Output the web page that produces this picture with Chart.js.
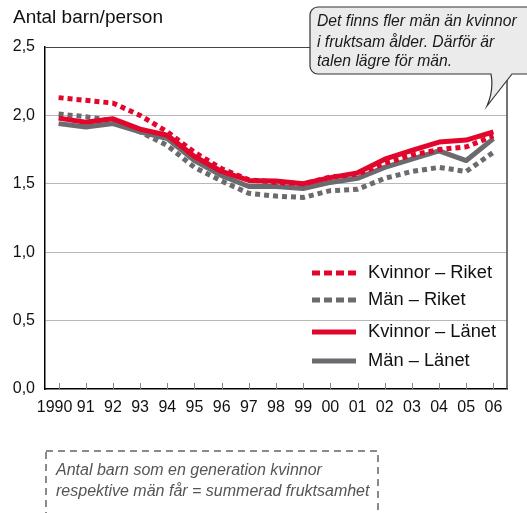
<!DOCTYPE html>
<html><head><meta charset="utf-8">
<script src="https://cdn.jsdelivr.net/npm/chart.js@4/dist/chart.umd.min.js"></script>
<style>html,body{margin:0;padding:0;background:#fff;}canvas{display:block;}</style>
</head><body>
<canvas id="c" width="527" height="513"></canvas>
<script>
const years = ['1990','91','92','93','94','95','96','97','98','99','00','01','02','03','04','05','06'];
const kvinnorRiket = [2.13,2.11,2.09,2.00,1.88,1.73,1.61,1.53,1.51,1.50,1.55,1.57,1.65,1.71,1.75,1.77,1.85];
const manRiket     = [2.01,1.99,1.96,1.88,1.78,1.62,1.52,1.43,1.41,1.40,1.45,1.46,1.54,1.59,1.62,1.59,1.73];
const kvinnorLanet = [1.98,1.95,1.975,1.90,1.855,1.70,1.59,1.525,1.52,1.50,1.545,1.58,1.68,1.745,1.805,1.82,1.88];
const manLanet     = [1.94,1.915,1.94,1.88,1.83,1.67,1.56,1.48,1.48,1.465,1.51,1.54,1.62,1.68,1.74,1.67,1.83];
const yTicks = [0,0.5,1.0,1.5,2.0,2.5];
const seriesNames = ['Kvinnor – Riket','Män – Riket','Kvinnor – Länet','Män – Länet'];
const titleText = 'Antal barn/person';
const calloutLines = ['Det finns fler män än kvinnor','i fruktsam ålder. Därför är','talen lägre för män.'];
const noteLines = ['Antal barn som en generation kvinnor','respektive män får = summerad fruktsamhet'];

const RED = '#e2062c', GRAY = '#6b6b6f';
const FONT = '"Liberation Sans", Arial, Helvetica, sans-serif';

const extras = {
  id: 'extras',
  afterDraw(chart) {
    const ctx = chart.ctx, a = chart.chartArea, xs = chart.scales.x;
    ctx.save();
    // right frame
    ctx.strokeStyle = '#444'; ctx.lineWidth = 1.5;
    ctx.beginPath(); ctx.moveTo(a.right, a.top); ctx.lineTo(a.right, a.bottom); ctx.stroke();
    // inner ticks
    ctx.strokeStyle = '#888'; ctx.lineWidth = 1;
    xs.ticks.forEach((t, i) => {
      const x = Math.round(xs.getPixelForTick(i)) + 0.5;
      ctx.beginPath(); ctx.moveTo(x, a.bottom - 6); ctx.lineTo(x, a.bottom); ctx.stroke();
    });
    // legend
    const rows = [273, 300, 332, 361];
    const sty = [
      {c: RED, dash: [8, 4]}, {c: GRAY, dash: [8, 4]}, {c: RED, dash: []}, {c: GRAY, dash: []}
    ];
    seriesNames.forEach((n, i) => {
      ctx.strokeStyle = sty[i].c; ctx.lineWidth = 5; ctx.lineCap = 'butt';
      ctx.setLineDash(sty[i].dash);
      ctx.beginPath(); ctx.moveTo(312, rows[i]); ctx.lineTo(356, rows[i]); ctx.stroke();
      ctx.setLineDash([]);
      ctx.fillStyle = '#111'; ctx.font = '18.3px ' + FONT; ctx.textBaseline = 'middle'; ctx.textAlign = 'left';
      ctx.fillText(n, 368, rows[i]);
    });
    // title
    ctx.fillStyle = '#111'; ctx.font = '19px ' + FONT; ctx.textBaseline = 'middle';
    ctx.fillText(titleText, 13, 18);
    // callout
    const L = 310, T = 7, R = 545, B = 74, r = 8;
    ctx.beginPath();
    ctx.moveTo(L + r, T); ctx.lineTo(R, T); ctx.lineTo(R, B);
    ctx.lineTo(512, B);
    ctx.quadraticCurveTo(498, 92, 487, 106);
    ctx.quadraticCurveTo(494, 90, 491, B);
    ctx.lineTo(L + r, B); ctx.arcTo(L, B, L, B - r, r);
    ctx.lineTo(L, T + r); ctx.arcTo(L, T, L + r, T, r);
    ctx.closePath();
    ctx.fillStyle = '#ebebeb'; ctx.fill();
    ctx.strokeStyle = '#333'; ctx.lineWidth = 1.2; ctx.stroke();
    ctx.fillStyle = '#1a1a1a'; ctx.font = 'italic 15.7px ' + FONT;
    [22, 42.5, 62].forEach((y, i) => ctx.fillText(calloutLines[i], 317, y));
    // footnote box
    ctx.strokeStyle = '#8a8a8a'; ctx.lineWidth = 2; ctx.setLineDash([7, 5]);
    ctx.strokeRect(46, 451, 332, 80);
    ctx.setLineDash([]);
    ctx.fillStyle = '#555'; ctx.font = 'italic 16px ' + FONT;
    [471, 492].forEach((y, i) => ctx.fillText(noteLines[i], 56, y));
    ctx.restore();
  }
};

const ds = (label, data, color, dotted, order) => ({
  label, data, borderColor: color, backgroundColor: color, borderWidth: 5,
  borderDash: dotted ? [5, 4] : [], borderCapStyle: 'butt', borderJoinStyle: dotted ? 'miter' : 'round',
  pointRadius: 0, tension: 0, fill: false, order
});

new Chart(document.getElementById('c'), {
  type: 'line',
  data: {
    labels: years,
    datasets: [
      ds(seriesNames[0], kvinnorRiket, RED, true, 1),
      ds(seriesNames[1], manRiket, GRAY, true, 3),
      ds(seriesNames[2], kvinnorLanet, RED, false, 0),
      ds(seriesNames[3], manLanet, GRAY, false, 2)
    ]
  },
  options: {
    responsive: false, animation: false, devicePixelRatio: 1,
    layout: {padding: {top: 47, right: 20, bottom: 94, left: 0}},
    plugins: {legend: {display: false}, tooltip: {enabled: false}, title: {display: false}},
    scales: {
      x: {
        type: 'category', offset: true,
        grid: {display: false, drawTicks: false},
        border: {color: '#000', width: 1.5},
        ticks: {font: {size: 16, family: FONT}, color: '#111', maxRotation: 0, autoSkip: false, padding: 9,
          callback(v, i) { const l = this.getLabelForValue(v); return i === 0 ? l + '\u2002' : l; }},
        afterFit(s) { s.height = 30; }
      },
      y: {
        min: 0, max: 2.5,
        afterBuildTicks(s) { s.ticks = yTicks.map(v => ({value: v})); },
        grid: {
          drawTicks: false, lineWidth: 1,
          color: c => c.tick && c.tick.value === 2.5 ? '#444' : (c.tick && c.tick.value === 0 ? 'rgba(0,0,0,0)' : '#b8b8b8')
        },
        border: {color: '#000', width: 1.5},
        ticks: {font: {size: 16, family: FONT}, color: '#111', padding: 10,
          callback: v => Number(v).toFixed(1).replace('.', ',')},
        afterFit(s) { s.width = 45; }
      }
    }
  },
  plugins: [extras]
});
</script>
</body></html>
